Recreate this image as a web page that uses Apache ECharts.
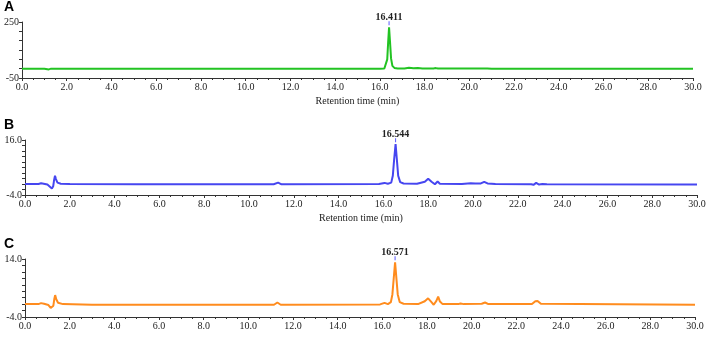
<!DOCTYPE html>
<html>
<head>
<meta charset="utf-8">
<script src="https://cdn.jsdelivr.net/npm/echarts@6/dist/echarts.min.js"></script>
<style>
  html, body { margin: 0; padding: 0; background: #fff; }
  #chart { width: 708px; height: 348px; }
</style>
</head>
<body>
<div id="chart"></div>
<script>
// retention time (min) / absorbance (mAU)
var traceA = [
  [0, 0], [0.7, 0], [1.0, 0], [1.2, -4], [1.3, 0], [1.38, 4], [1.5, 0], [3, 0], [8, 0],
  [12, 0], [16.0, 0], [16.2, 1], [16.28, 10], [16.33, 50], [16.37, 140], [16.411, 222],
  [16.45, 150], [16.5, 55], [16.56, 15], [16.65, 4], [16.8, 1], [17.1, 1], [17.3, 5],
  [17.5, 2], [17.7, 3], [17.9, 1], [18.4, 1], [18.5, 3], [18.6, 0.5], [20.6, 0.5],
  [20.8, 1.5], [21.0, 0], [30, 0]
];
var traceB = [
  [0, 0], [0.6, 0], [0.72, 0.3], [0.8, 0.2], [1.0, -0.2], [1.1, -0.9], [1.2, -1.6],
  [1.26, -0.8], [1.3, 1.5], [1.34, 3.0], [1.38, 1.8], [1.45, 0.5], [1.6, 0.1], [2, 0],
  [5, -0.1], [11.1, -0.1], [11.3, 0.5], [11.45, -0.1], [15.8, 0], [16.05, 0.4],
  [16.2, 0.1], [16.35, 0.5], [16.42, 3], [16.48, 9], [16.544, 14.5], [16.6, 9],
  [16.66, 3], [16.75, 0.7], [16.9, 0.2], [17.5, 0.1], [17.85, 0.8], [18.0, 1.9],
  [18.15, 0.8], [18.3, -0.1], [18.42, 0.9], [18.52, 0.1], [19.5, 0], [19.9, 0.3],
  [20.1, 0.2], [20.35, 0.2], [20.5, 0.8], [20.65, 0.2], [21, 0], [22.6, -0.1],
  [22.7, -0.3], [22.82, 0.4], [22.95, -0.2], [23.1, 0], [23.3, -0.1], [30, -0.2]
];
var traceC = [
  [0, 0], [0.6, 0], [0.72, 0.3], [0.85, 0.1], [1.05, -0.3], [1.15, -1.2], [1.22, -1.5],
  [1.27, -0.5], [1.31, 1.5], [1.35, 2.8], [1.4, 1.5], [1.48, 0.4], [1.7, 0], [3, -0.2],
  [10, -0.2], [11.15, -0.2], [11.3, 0.5], [11.45, -0.2], [15.9, -0.1], [16.1, 0.4],
  [16.25, 0], [16.38, 0.6], [16.45, 3], [16.51, 8], [16.571, 13], [16.63, 8],
  [16.69, 3], [16.78, 0.6], [16.95, 0.1], [17.6, 0], [17.9, 0.9], [18.05, 1.8],
  [18.2, 0.6], [18.3, -0.2], [18.42, 1.0], [18.5, 2.3], [18.58, 0.8], [18.7, 0],
  [19.4, 0], [19.5, 0.2], [19.65, 0], [20.45, 0.1], [20.6, 0.5], [20.75, 0],
  [22.7, 0], [22.85, 0.9], [22.95, 1.0], [23.1, 0.1], [30, -0.2]
];
var peaks = [[16.411, 222], [16.544, 14.5], [16.571, 13]];
var peakLabels = ['16.411', '16.544', '16.571'];
var yRanges = [[-50, 250, 50], [-4, 16, 2], [-4, 14, 2]];
var panelNames = ['A', 'B', 'C'];
var traces = [traceA, traceB, traceC];
var colors = ['#22c322', '#4646f0', '#ff8c1e'];

var serif = 'Liberation Serif';
var grids = [
  { left: 22, right: 15, top: 22, height: 56, outerBoundsMode: 'none' },
  { left: 25, right: 11, top: 140, height: 55, outerBoundsMode: 'none' },
  { left: 25, right: 13, top: 259, height: 58, outerBoundsMode: 'none' }
];

var xAxes = [], yAxes = [], series = [], graphics = [];
for (var i = 0; i < 3; i++) {
  xAxes.push({
    type: 'value', gridIndex: i, min: 0, max: 30, interval: 2,
    name: i < 2 ? 'Retention time (min)' : '',
    nameLocation: 'middle', nameGap: 18,
    nameTextStyle: { fontFamily: serif, fontSize: 10, color: '#222' },
    axisLine: { show: true, onZero: false, lineStyle: { color: '#333', width: 1 } },
    axisTick: { show: true, length: 3, lineStyle: { color: '#333' } },
    minorTick: { show: true, splitNumber: 4, length: 2, lineStyle: { color: '#333' } },
    splitLine: { show: false },
    axisLabel: {
      fontFamily: serif, fontSize: 10, color: '#222', margin: 4,
      formatter: function (v) { return v.toFixed(1); }
    }
  });
  (function (r, idx) {
    yAxes.push({
      type: 'value', gridIndex: idx, min: r[0], max: r[1], interval: r[2],
      name: 'mAU', nameLocation: 'middle', nameGap: 7,
      nameTextStyle: { fontFamily: serif, fontSize: 10, color: '#222' },
      axisLine: { show: true, lineStyle: { color: '#333', width: 1 } },
      axisTick: { show: true, length: 3, lineStyle: { color: '#333' } },
      splitLine: { show: false },
      axisLabel: {
        fontFamily: serif, fontSize: 10, color: '#222', margin: 3,
        formatter: function (v) {
          if (v !== r[0] && v !== r[1]) return '';
          return idx === 0 ? String(v) : v.toFixed(1);
        }
      }
    });
  })(yRanges[i], i);
  series.push({
    type: 'line', xAxisIndex: i, yAxisIndex: i, data: traces[i],
    showSymbol: false, symbol: 'none', silent: true,
    lineStyle: { color: colors[i], width: 2 },
    markPoint: {
      symbol: 'rect', symbolSize: [1, 4], symbolOffset: [0, -4],
      itemStyle: { color: '#5a5aff' },
      label: {
        show: true, position: 'top', distance: -1,
        fontFamily: serif, fontSize: 10, fontWeight: 'bold', color: '#222',
        formatter: peakLabels[i]
      },
      data: [{ coord: peaks[i] }]
    }
  });
  graphics.push({
    type: 'text', left: 4, top: grids[i].top - 22,
    style: { text: panelNames[i], font: 'bold 14px "Liberation Sans"', fill: '#000' }
  });
}

var chart = echarts.init(document.getElementById('chart'));
chart.setOption({
  animation: false,
  backgroundColor: '#fff',
  grid: grids,
  xAxis: xAxes,
  yAxis: yAxes,
  series: series,
  graphic: graphics
});
</script>
</body>
</html>
